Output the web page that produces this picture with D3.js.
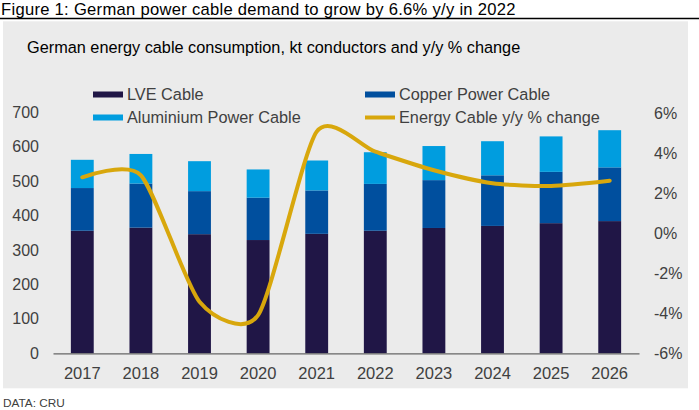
<!DOCTYPE html>
<html>
<head>
<meta charset="utf-8">
<script src="https://cdn.jsdelivr.net/npm/d3@7"></script>
<style>
  body { margin: 0; background: #fff; }
  text { font-family: "Liberation Sans", Arial, sans-serif; }
</style>
</head>
<body>
<div id="chart"></div>
<script>
var svgWidth = 699;
var svgHeight = 410;

// data
var years = ["2017", "2018", "2019", "2020", "2021", "2022", "2023", "2024", "2025", "2026"];
var lveCable = [356, 365, 346, 329, 347, 356, 364, 370, 378, 384];
var copperCable = [124, 128, 125, 123, 126, 136, 139, 147, 149, 156];
var aluCable = [82, 86, 87, 82, 87, 92, 99, 99, 103, 108];
var yoyChange = [2.8, 2.9, -3.42, -4.09, 5.08, 4.08, 3.15, 2.5, 2.37, 2.63];

var leftTicks = [0, 100, 200, 300, 400, 500, 600, 700];
var rightTicks = [-6, -4, -2, 0, 2, 4, 6];

var seriesKeys = ["lve", "copper", "alu"];
var seriesColors = { lve: "#201646", copper: "#004f9e", alu: "#009ddf" };
var lineColor = "#d8a70c";

var table = years.map(function(y, i) {
    return { year: y, lve: lveCable[i], copper: copperCable[i], alu: aluCable[i], yoy: yoyChange[i] };
});

var svg = d3.select("#chart")
    .append("svg")
    .attr("width", svgWidth)
    .attr("height", svgHeight);

// headline + rule
svg.append("text")
    .attr("x", 1)
    .attr("y", 14.8)
    .attr("font-size", 16.6)
    .attr("letter-spacing", 0.28)
    .attr("fill", "#000")
    .text("Figure 1: German power cable demand to grow by 6.6% y/y in 2022");

svg.append("line")
    .attr("x1", 0).attr("x2", svgWidth)
    .attr("y1", 18.6).attr("y2", 18.6)
    .attr("stroke", "#000")
    .attr("stroke-width", 1.5);

// grey panel
svg.append("rect")
    .attr("x", 3).attr("y", 21.3)
    .attr("width", 685).attr("height", 367)
    .attr("fill", "#ebebeb");

svg.append("text")
    .attr("x", 27)
    .attr("y", 52.7)
    .attr("font-size", 16.3)
    .attr("fill", "#000")
    .text("German energy cable consumption, kt conductors and y/y % change");

var plot = { left: 53, right: 639, top: 112.3, bottom: 353.3 };

var x = d3.scaleBand()
    .domain(years)
    .range([plot.left, plot.right])
    .paddingInner(0.61)
    .paddingOuter(0.305);

var yLeft = d3.scaleLinear()
    .domain([0, 700])
    .range([plot.bottom, plot.top]);

var yRight = d3.scaleLinear()
    .domain([-6, 6])
    .range([plot.bottom, plot.top + 1]);

var stacked = d3.stack().keys(seriesKeys)(table);

svg.append("g")
    .selectAll("g")
    .data(stacked)
    .join("g")
    .attr("fill", function(d) { return seriesColors[d.key]; })
    .selectAll("rect")
    .data(function(d) { return d; })
    .join("rect")
    .attr("x", function(d) { return x(d.data.year); })
    .attr("width", x.bandwidth())
    .attr("y", function(d) { return yLeft(d[1]); })
    .attr("height", function(d) { return yLeft(d[0]) - yLeft(d[1]); });

// axes
var bottomAxis = d3.axisBottom(x).tickSize(0).tickPadding(13.5);
var xAxis = svg.append("g")
    .attr("transform", `translate(0, ${plot.bottom})`)
    .call(bottomAxis);
xAxis.select(".domain").attr("stroke", "#666").attr("stroke-width", 1.2);
xAxis.selectAll("text")
    .attr("font-size", 16.5)
    .attr("fill", "#404040")
    .attr("font-family", "Liberation Sans, Arial, sans-serif");

var leftAxis = d3.axisLeft(yLeft).tickValues(leftTicks).tickSize(0).tickPadding(0);
var yAxisL = svg.append("g")
    .attr("transform", "translate(39, 0)")
    .call(leftAxis);
yAxisL.select(".domain").remove();
yAxisL.selectAll("text")
    .attr("font-size", 16)
    .attr("fill", "#404040")
    .attr("font-family", "Liberation Sans, Arial, sans-serif");

var rightAxis = d3.axisRight(yRight).tickValues(rightTicks).tickSize(0).tickPadding(0)
    .tickFormat(function(d) { return d + "%"; });
var yAxisR = svg.append("g")
    .attr("transform", "translate(654, 0)")
    .call(rightAxis);
yAxisR.select(".domain").remove();
yAxisR.selectAll("text")
    .attr("font-size", 16)
    .attr("fill", "#404040")
    .attr("font-family", "Liberation Sans, Arial, sans-serif");

// y/y line, smoothed like the spreadsheet original
var line = d3.line()
    .x(function(d) { return x(d.year) + x.bandwidth() / 2; })
    .y(function(d) { return yRight(d.yoy); })
    .curve(d3.curveCardinal.tension(0.3));

svg.append("path")
    .datum(table)
    .attr("d", line)
    .attr("fill", "none")
    .attr("stroke", lineColor)
    .attr("stroke-width", 4)
    .attr("stroke-linecap", "round");

// legend
var legendItems = [
    { label: "LVE Cable", color: seriesColors.lve, type: "rect", x: 93, y: 94.5 },
    { label: "Copper Power Cable", color: seriesColors.copper, type: "rect", x: 365, y: 94.5 },
    { label: "Aluminium Power Cable", color: seriesColors.alu, type: "rect", x: 93, y: 117.5 },
    { label: "Energy Cable y/y % change", color: lineColor, type: "line", x: 365, y: 117.5 }
];

var legend = svg.append("g");
legendItems.forEach(function(item) {
    if (item.type === "rect") {
        legend.append("rect")
            .attr("x", item.x).attr("y", item.y - 3)
            .attr("width", 30).attr("height", 6)
            .attr("fill", item.color);
    } else {
        legend.append("line")
            .attr("x1", item.x).attr("x2", item.x + 30)
            .attr("y1", item.y).attr("y2", item.y)
            .attr("stroke", item.color)
            .attr("stroke-width", 4);
    }
    legend.append("text")
        .attr("x", item.x + 34)
        .attr("y", item.y + 5.8)
        .attr("font-size", 16.3)
        .attr("fill", "#404040")
        .text(item.label);
});

svg.append("text")
    .attr("x", 3)
    .attr("y", 406.5)
    .attr("font-size", 11.8)
    .attr("fill", "#404040")
    .text("DATA: CRU");
</script>
</body>
</html>
